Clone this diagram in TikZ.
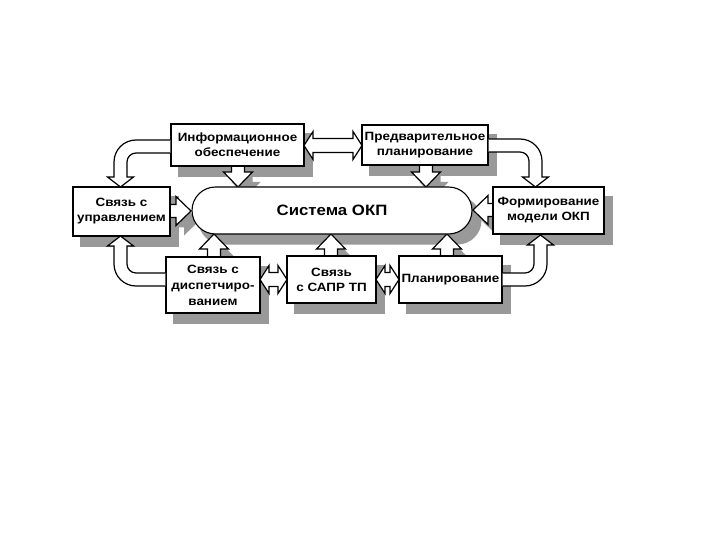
\documentclass[tikz,border=0pt]{standalone}
\usepackage{fontspec}
\setmainfont{Liberation Sans}[FakeStretch=1.12]
\usetikzlibrary{shapes.misc}
\pgfdeclarelayer{back}
\pgfdeclarelayer{bg}
\pgfsetlayers{back,bg,main}
\definecolor{shad}{gray}{0.6}
\tikzset{
  box/.style={draw, line width=1.1pt, fill=white, inner sep=1pt, align=center,
    font=\bfseries\fontsize{12}{15}\selectfont},
  arr/.style={draw, line width=1.2pt, fill=white, line join=miter},
  shd/.style={fill=shad, shift={(8,10)}},
}
\newcommand\varrow[3]{% x, ystart, ytip
  \pgfmathsetmacro\hb{#3-15*sign(#3-#2)}
  \begin{pgfonlayer}{bg}
  \fill[shd] (#1-6.5,#2) -- (#1-6.5,\hb) -- (#1-14.5,\hb) -- (#1,#3) -- (#1+14.5,\hb) -- (#1+6.5,\hb) -- (#1+6.5,#2) -- cycle;
  \end{pgfonlayer}
  \filldraw[arr] (#1-6.5,#2) -- (#1-6.5,\hb) -- (#1-14.5,\hb) -- (#1,#3) -- (#1+14.5,\hb) -- (#1+6.5,\hb) -- (#1+6.5,#2);
}
\newcommand\harrow[3]{% y, xstart, xtip
  \pgfmathsetmacro\hb{#3-15*sign(#3-#2)}
  \begin{pgfonlayer}{bg}
  \fill[shd] (#2,#1-6.5) -- (\hb,#1-6.5) -- (\hb,#1-14.5) -- (#3,#1) -- (\hb,#1+14.5) -- (\hb,#1+6.5) -- (#2,#1+6.5) -- cycle;
  \end{pgfonlayer}
  \filldraw[arr] (#2,#1-6.5) -- (\hb,#1-6.5) -- (\hb,#1-14.5) -- (#3,#1) -- (\hb,#1+14.5) -- (\hb,#1+6.5) -- (#2,#1+6.5);
}
\newcommand\dharrow[3]{% y, x1, x2
  \filldraw[arr] (#2,#1) -- (#2+9,#1-14) -- (#2+9,#1-7) -- (#3-9,#1-7) -- (#3-9,#1-14) -- (#3,#1)
     -- (#3-9,#1+14) -- (#3-9,#1+7) -- (#2+9,#1+7) -- (#2+9,#1+14) -- cycle;
}
\newcommand\boxshadow[1]{\fill[fill=shad] ([shift={(8,10)}]#1.south west) rectangle ([shift={(8,10)}]#1.north east);}
\begin{document}
\begin{tikzpicture}[x=1pt,y=-1pt]
\useasboundingbox (0,0) rectangle (720,540);
\begin{pgfonlayer}{back}
\fill[white] (0,0) rectangle (720,540);
\end{pgfonlayer}

% arrows (drawn below the boxes)
\varrow{238}{166}{187}
\varrow{426}{165}{187}
\varrow{214}{257}{234}
\varrow{331}{256}{234}
\varrow{447}{256}{234}
\harrow{211}{170}{191}
\harrow{210}{493}{473}
\dharrow{145.5}{304}{362}
\dharrow{279.5}{260}{287}
\dharrow{279.5}{376}{399}

% nodes
\node[box, minimum width=133pt, minimum height=42pt] (info) at (237.5,145) {Информационное\\обеспечение};
\node[box, minimum width=126pt, minimum height=40pt] (pred) at (425,145) {Предварительное\\планирование};
\node[box, minimum width=97pt, minimum height=49pt] (upr) at (121.5,211.5) {Связь с\\управлением};
\node[box, minimum width=111pt, minimum height=47pt] (form) at (548.5,210.5) {Формирование\\модели ОКП};
\node[box, rounded rectangle, minimum width=282pt, minimum height=47pt,
      font=\bfseries\fontsize{15}{17}\selectfont] (cap) at (332,210.5) {Система ОКП};
\node[box, minimum width=94pt, minimum height=56pt, font=\bfseries\fontsize{12}{16}\selectfont] (disp) at (213,285) {Связь с\\диспетчиро-\\ванием};
\node[box, minimum width=89pt, minimum height=47pt] (sapr) at (331.5,279.5) {Связь\\с САПР ТП};
\node[box, minimum width=103pt, minimum height=47pt] (plan) at (450.5,279.5) {Планирование};

% shadows
\begin{pgfonlayer}{bg}
\foreach \n in {info,pred,upr,form,disp,sapr,plan}{\boxshadow{\n}}
\node[rounded rectangle, fill=shad, minimum width=283pt, minimum height=48pt, inner sep=0pt] at (340,220.5) {};
\end{pgfonlayer}

% curved arrows
\filldraw[arr] (info.west |- 0,140) -- (136,140) arc[start angle=270, end angle=180, radius=22]
  -- (114,177) -- (107.5,177) -- (120.5,187) -- (133.5,177) -- (127,177) -- (127,162)
  arc[start angle=180, end angle=270, radius=9] -- (info.west |- 0,153);
\filldraw[arr] (disp.west |- 0,286) -- (136,286) arc[start angle=90, end angle=180, radius=22]
  -- (114,246) -- (107.5,246) -- (120.5,236) -- (133.5,246) -- (127,246) -- (127,264)
  arc[start angle=180, end angle=90, radius=9] -- (disp.west |- 0,273);
\filldraw[arr] (pred.east |- 0,139) -- (520,139) arc[start angle=270, end angle=360, radius=22]
  -- (542,177) -- (548.5,177) -- (535.5,187) -- (522.5,177) -- (529,177) -- (529,161)
  arc[start angle=0, end angle=-90, radius=9] -- (pred.east |- 0,152);
\filldraw[arr] (plan.east |- 0,286) -- (525,286) arc[start angle=90, end angle=0, radius=22]
  -- (547,245) -- (553.5,245) -- (540.5,235) -- (527.5,245) -- (534,245) -- (534,264)
  arc[start angle=0, end angle=90, radius=9] -- (plan.east |- 0,273);
\end{tikzpicture}
\end{document}
